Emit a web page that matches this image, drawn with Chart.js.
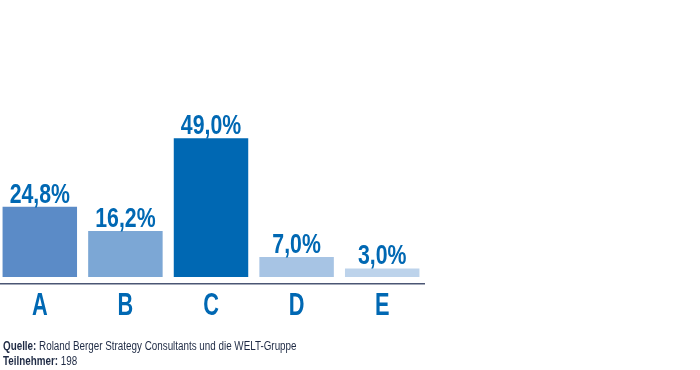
<!DOCTYPE html>
<html>
<head>
<meta charset="utf-8">
<script src="https://cdn.jsdelivr.net/npm/chart.js@4"></script>
<style>
  body { margin: 0; width: 700px; height: 370px; background: #fff; position: relative; overflow: hidden; }
  #wrap { position: absolute; left: -3px; top: 0; width: 428px; height: 370px; }
  .note { position: absolute; left: 3px; font: 12px "Liberation Sans", Arial, sans-serif; color: #1e2a44;
          transform: scaleX(0.82); transform-origin: left top; white-space: nowrap; }
  .note b { font-weight: bold; }
</style>
</head>
<body>
<div id="wrap"><canvas id="myChart"></canvas></div>
<div class="note" style="top:339px"><b>Quelle:</b> Roland Berger Strategy Consultants und die WELT-Gruppe</div>
<div class="note" style="top:354px"><b>Teilnehmer:</b> 198</div>
<script>
const categories = ['A', 'B', 'C', 'D', 'E']
const shares = [24.8, 16.2, 49.0, 7.0, 3.0]
const valueLabels = ['24,8%', '16,2%', '49,0%', '7,0%', '3,0%']
const barColors = ['#5b8bc7', '#7ca7d5', '#0068b3', '#a7c4e4', '#bdd3eb']

const font = '"Liberation Sans", Arial, sans-serif'
const blue = '#0068b3'

// narrow bold text, squeezed horizontally
function narrowText(ctx, text, x, y, size, squeeze) {
    ctx.save()
    ctx.translate(x, y)
    ctx.scale(squeeze, 1)
    ctx.font = 'bold ' + size + 'px ' + font
    ctx.fillText(text, 0, 0)
    ctx.restore()
}

const labelsPlugin = {
    id: 'labelsPlugin',
    afterDatasetsDraw(chart) {
        const ctx = chart.ctx
        const meta = chart.getDatasetMeta(0)
        const xScale = chart.scales.x
        ctx.save()
        ctx.fillStyle = blue
        ctx.textAlign = 'center'
        ctx.textBaseline = 'alphabetic'
        meta.data.forEach((bar, i) => {
            narrowText(ctx, valueLabels[i], bar.x, bar.y - 4, 28, 0.76)
            narrowText(ctx, categories[i], xScale.getPixelForValue(i), chart.chartArea.bottom + 31, 32, 0.68)
        })
        ctx.restore()
    }
}

new Chart(document.getElementById('myChart'), {
    type: 'bar',
    data: {
        labels: categories,
        datasets: [{
            data: shares,
            backgroundColor: barColors,
            borderWidth: 0,
            barPercentage: 0.87,
            categoryPercentage: 1
        }]
    },
    options: {
        responsive: true,
        maintainAspectRatio: false,
        animation: false,
        layout: { padding: { left: 0, right: 0, top: 0, bottom: 86 } },
        plugins: { legend: { display: false }, tooltip: { enabled: false } },
        scales: {
            x: {
                grid: { display: false, drawTicks: false },
                border: { display: true, color: '#4b5674', width: 1.5 },
                ticks: { display: false }
            },
            y: {
                display: false,
                min: -2.5,
                max: 97.8
            }
        }
    },
    plugins: [labelsPlugin]
})
</script>
</body>
</html>
